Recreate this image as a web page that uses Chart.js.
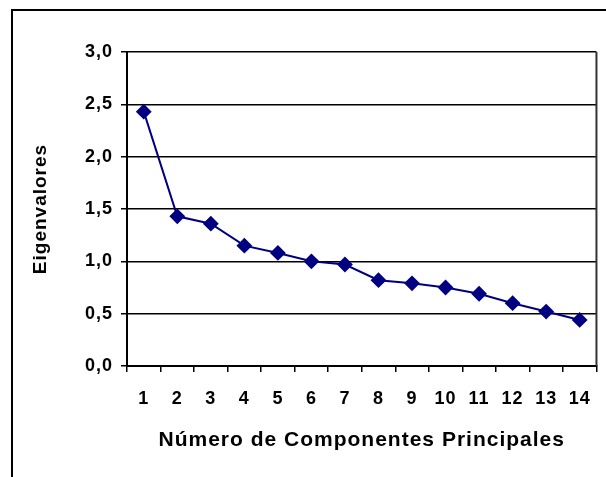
<!DOCTYPE html>
<html>
<head>
<meta charset="utf-8">
<title>Eigenvalores</title>
<script src="https://cdn.jsdelivr.net/npm/chart.js@4.4.1/dist/chart.umd.min.js"></script>
<style>
  html, body { margin: 0; padding: 0; background: #fff; }
  canvas { display: block; }
</style>
</head>
<body>
<canvas id="screeChart" width="606" height="477"></canvas>
<script>
// Principal component numbers and their eigenvalues
const components = ["1", "2", "3", "4", "5", "6", "7", "8", "9", "10", "11", "12", "13", "14"];
const eigenvalues = [2.43, 1.43, 1.36, 1.15, 1.08, 1.00, 0.97, 0.82, 0.79, 0.75, 0.69, 0.60, 0.52, 0.44];
const yTicks = [0, 0.5, 1.0, 1.5, 2.0, 2.5, 3.0];

document.addEventListener("DOMContentLoaded", function () {
  const fontFamily = "Arial, 'Liberation Sans', sans-serif";

  // White background, outer frame and right edge of the plot box
  const framePlugin = {
    id: "frame",
    beforeDraw(chart) {
      const ctx = chart.ctx;
      ctx.save();
      ctx.fillStyle = "#fff";
      ctx.fillRect(0, 0, chart.width, chart.height);
      ctx.strokeStyle = "#000";
      ctx.lineWidth = 2;
      ctx.beginPath();
      ctx.moveTo(12, chart.height);
      ctx.lineTo(12, 10);
      ctx.lineTo(chart.width, 10);
      ctx.stroke();
      ctx.restore();
      // slightly wider text, like the old spreadsheet export
      ctx.letterSpacing = "1px";
    },
    afterDraw(chart) {
      const { ctx, chartArea } = chart;
      ctx.save();
      ctx.strokeStyle = "#333";
      ctx.lineWidth = 2;
      ctx.beginPath();
      ctx.moveTo(chartArea.right, chartArea.top);
      ctx.lineTo(chartArea.right, chartArea.bottom);
      ctx.stroke();
      ctx.restore();
    }
  };

  const ctx = document.getElementById("screeChart").getContext("2d");
  const screeChart = new Chart(ctx, {
    type: "line",
    data: {
      labels: components,
      datasets: [{
        label: "Eigenvalores",
        data: eigenvalues,
        borderColor: "#000080",
        backgroundColor: "#000080",
        borderWidth: 2,
        tension: 0,
        pointStyle: "rectRot",
        pointRadius: 6.5,
        pointBackgroundColor: "#000080",
        pointBorderColor: "#000080"
      }]
    },
    options: {
      responsive: false,
      animation: false,
      layout: { padding: { left: 0, top: 52, right: 5, bottom: 0 } },
      plugins: {
        legend: { display: false },
        tooltip: { enabled: false }
      },
      scales: {
        x: {
          type: "category",
          offset: true,
          afterFit: function (scale) { scale.height = 111; },
          grid: {
            offset: true,
            drawOnChartArea: false,
            drawTicks: true,
            tickLength: 6,
            color: "#000",
            lineWidth: 1.5
          },
          border: { display: true, color: "#000", width: 2 },
          ticks: {
            color: "#000",
            padding: 16,
            maxRotation: 0,
            autoSkip: false,
            font: { family: fontFamily, size: 18, weight: "bold" }
          },
          title: {
            display: true,
            text: "Número de Componentes Principales",
            color: "#000",
            padding: { top: 0, bottom: 24 },
            font: { family: fontFamily, size: 21, weight: "bold" }
          }
        },
        y: {
          min: 0,
          max: 3,
          afterFit: function (scale) { scale.width = 127; },
          afterBuildTicks: function (scale) {
            scale.ticks = yTicks.map(v => ({ value: v }));
          },
          grid: {
            drawTicks: true,
            tickLength: 6,
            color: "#000",
            lineWidth: 1.5
          },
          border: { display: true, color: "#000", width: 2 },
          ticks: {
            color: "#000",
            padding: 8,
            font: { family: fontFamily, size: 18, weight: "bold" },
            callback: function (value) {
              return value.toFixed(1).replace(".", ",");
            }
          },
          title: {
            display: true,
            text: "Eigenvalores",
            color: "#000",
            padding: { top: 29, bottom: 0 },
            font: { family: fontFamily, size: 19, weight: "bold" }
          }
        }
      }
    },
    plugins: [framePlugin]
  });
});
</script>
</body>
</html>
